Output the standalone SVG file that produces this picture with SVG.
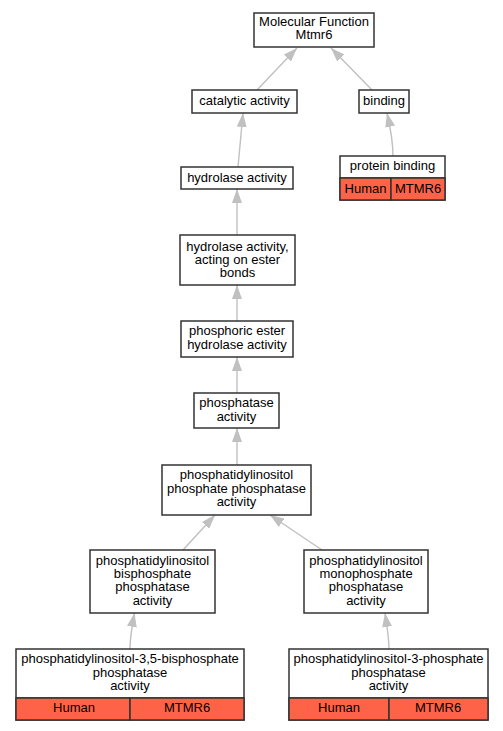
<svg xmlns="http://www.w3.org/2000/svg" width="503" height="731" viewBox="0 0 503 731">
<style>
.box{fill:#fff;stroke:#333;stroke-width:1.5}
.cell{fill:#ff6347;stroke:#333;stroke-width:1.5}
.t{font-family:"Liberation Sans",Arial,sans-serif;font-size:13px;fill:#000;text-anchor:middle}
.e{fill:none;stroke:#c0c0c0;stroke-width:1.4;marker-end:url(#ah)}
</style>
<defs>
<marker id="ah" viewBox="0 0 14 10" refX="14" refY="5" markerWidth="14" markerHeight="10" markerUnits="userSpaceOnUse" orient="auto">
<path d="M0,0 L14,5 L0,10 z" fill="#c0c0c0"/>
</marker>
</defs>
<rect width="503" height="731" fill="#fff"/>
<g id="edges">
<path class="e" d="M257,90 L297,48"/>
<path class="e" d="M372,90 L331,48"/>
<path class="e" d="M238,167 L243,113"/>
<path class="e" d="M393,156 C393,140 390,126 387,113"/>
<path class="e" d="M237,235 L237,189"/>
<path class="e" d="M237,321 L237,285"/>
<path class="e" d="M237,393 L237,357"/>
<path class="e" d="M237,465 L237,428"/>
<path class="e" d="M183,550 L215,515"/>
<path class="e" d="M322,550 L270,515"/>
<path class="e" d="M130,649 C130,638 132,626 134.5,613"/>
<path class="e" d="M389,649 C389,638 387,626 385,613"/>
</g>
<g id="mf">
<rect class="box" x="254" y="13" width="120" height="34"/>
<text class="t" x="314" y="26">Molecular Function</text>
<text class="t" x="314" y="39">Mtmr6</text>
</g>
<g id="catalytic">
<rect class="box" x="192" y="90" width="105" height="23"/>
<text class="t" x="244.5" y="105">catalytic activity</text>
</g>
<g id="binding">
<rect class="box" x="359" y="90" width="50" height="23"/>
<text class="t" x="384" y="105">binding</text>
</g>
<g id="hydrolase">
<rect class="box" x="181" y="167" width="112" height="22"/>
<text class="t" x="237" y="182">hydrolase activity</text>
</g>
<g id="protein-binding">
<rect class="box" x="340" y="156" width="105" height="44"/>
<line x1="340" y1="178" x2="445" y2="178" stroke="#333" stroke-width="1.5"/>
<rect class="cell" x="340" y="178" width="51" height="22"/>
<rect class="cell" x="391" y="178" width="54" height="22"/>
<text class="t" x="392.5" y="170">protein binding</text>
<text class="t" x="365.5" y="193">Human</text>
<text class="t" x="418" y="193">MTMR6</text>
</g>
<g id="ester">
<rect class="box" x="180" y="235" width="115" height="50"/>
<text class="t" x="237.5" y="251">hydrolase activity,</text>
<text class="t" x="237.5" y="264">acting on ester</text>
<text class="t" x="237.5" y="277">bonds</text>
</g>
<g id="phosphoric">
<rect class="box" x="181" y="321" width="112" height="36"/>
<text class="t" x="237" y="335">phosphoric ester</text>
<text class="t" x="237" y="349">hydrolase activity</text>
</g>
<g id="phosphatase">
<rect class="box" x="194" y="393" width="85" height="35"/>
<text class="t" x="236.5" y="407">phosphatase</text>
<text class="t" x="236.5" y="421">activity</text>
</g>
<g id="pip">
<rect class="box" x="162" y="465" width="149" height="50"/>
<text class="t" x="236.5" y="479">phosphatidylinositol</text>
<text class="t" x="236.5" y="493">phosphate phosphatase</text>
<text class="t" x="236.5" y="506">activity</text>
</g>
<g id="bis">
<rect class="box" x="90" y="550" width="125" height="63"/>
<text class="t" x="152.5" y="565">phosphatidylinositol</text>
<text class="t" x="152.5" y="578">bisphosphate</text>
<text class="t" x="152.5" y="591">phosphatase</text>
<text class="t" x="152.5" y="605">activity</text>
</g>
<g id="mono">
<rect class="box" x="304" y="550" width="124" height="63"/>
<text class="t" x="366" y="565">phosphatidylinositol</text>
<text class="t" x="366" y="578">monophosphate</text>
<text class="t" x="366" y="591">phosphatase</text>
<text class="t" x="366" y="605">activity</text>
</g>
<g id="pi35">
<rect class="box" x="16" y="649" width="228" height="71"/>
<line x1="16" y1="698" x2="244" y2="698" stroke="#333" stroke-width="1.5"/>
<rect class="cell" x="16" y="698" width="114" height="22"/>
<rect class="cell" x="130" y="698" width="114" height="22"/>
<text class="t" x="130" y="663">phosphatidylinositol-3,5-bisphosphate</text>
<text class="t" x="130" y="677">phosphatase</text>
<text class="t" x="130" y="690">activity</text>
<text class="t" x="74" y="712">Human</text>
<text class="t" x="187" y="712">MTMR6</text>
</g>
<g id="pi3">
<rect class="box" x="289" y="649" width="199" height="71"/>
<line x1="289" y1="698" x2="488" y2="698" stroke="#333" stroke-width="1.5"/>
<rect class="cell" x="289" y="698" width="100" height="22"/>
<rect class="cell" x="389" y="698" width="99" height="22"/>
<text class="t" x="388.5" y="663">phosphatidylinositol-3-phosphate</text>
<text class="t" x="388.5" y="677">phosphatase</text>
<text class="t" x="388.5" y="690">activity</text>
<text class="t" x="339" y="712">Human</text>
<text class="t" x="438" y="712">MTMR6</text>
</g>
</svg>
